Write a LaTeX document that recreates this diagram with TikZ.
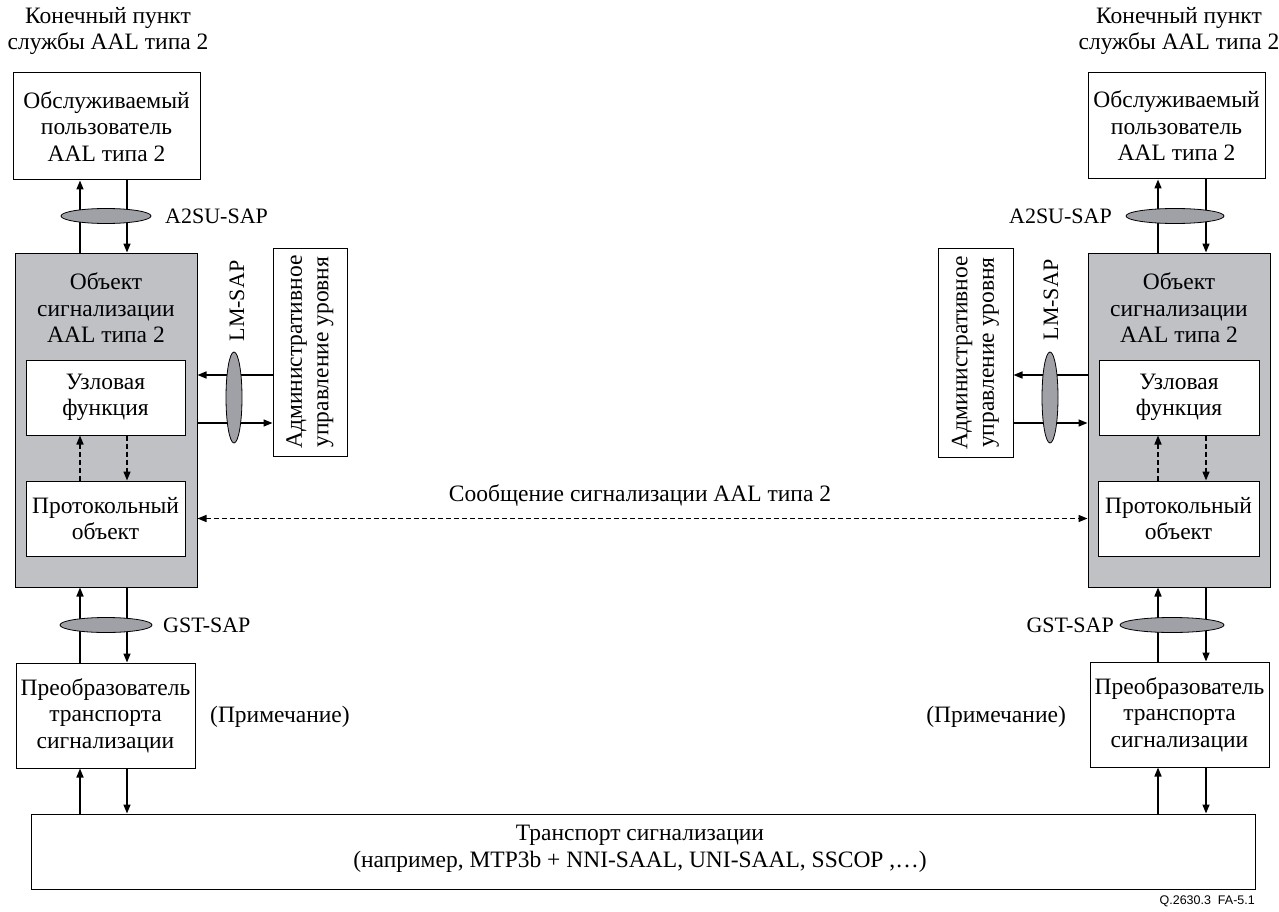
\documentclass[tikz,border=0pt]{standalone}
\usepackage{fontspec}
\setmainfont{Liberation Serif}
\newfontfamily\figsans{Liberation Sans}
\usetikzlibrary{arrows.meta,shapes.geometric}

\definecolor{entgray}{RGB}{192,193,197}
\definecolor{sapgray}{RGB}{160,161,166}

\tikzset{
  box/.style={draw, line width=1pt, fill=white, align=center, inner sep=0pt},
  entity/.style={box, fill=entgray},
  sap/.style={ellipse, draw, line width=0.8pt, fill=sapgray, inner sep=0pt},
  wire/.style={line width=1.5pt},
  link/.style={wire, -{Triangle[length=9pt,width=7pt]}},
  twoway/.style={wire, {Triangle[length=9pt,width=7pt]}-{Triangle[length=9pt,width=7pt]}},
  dashline/.style={dash pattern=on 5pt off 3pt},
  txt/.style={align=center, inner sep=0pt},
  saptxt/.style={txt, font=\fontsize{22}{26}\selectfont}
}

\begin{document}
\begin{tikzpicture}[x=1pt, y=-1pt, font=\fontsize{23.5}{26.5}\selectfont]
\useasboundingbox (0,0) rectangle (1279,912);

% ---------- left end point ----------
\node[txt] (endL) at (108,31) {Конечный пункт\\службы AAL типа 2};
\node[box, minimum width=187, minimum height=107] (userL) at (106.5,126.5)
  {Обслуживаемый\\пользователь\\AAL типа 2};
\node[entity, minimum width=182, minimum height=334] (mainL) at (106,420) {};
\node[txt] (titleL) at (106,308) {Объект\\сигнализации\\AAL типа 2};
\node[box, minimum width=159, minimum height=75] (fnL) at (105.5,397.5) {Узловая\\функция};
\node[box, minimum width=159, minimum height=75] (protoL) at (105.5,518.5) {Протокольный\\объект};
\node[box, minimum width=74, minimum height=208,
  label={[rotate=90, align=center, inner sep=0pt]center:Административное\\управление уровня}]
  (admL) at (310,352) {};
\node[box, minimum width=179, minimum height=105] (convL) at (105.5,715.5)
  {Преобразователь\\транспорта\\сигнализации};

% ---------- right end point ----------
\node[txt] (endR) at (1179,31) {Конечный пункт\\службы AAL типа 2};
\node[box, minimum width=177, minimum height=106] (userR) at (1176.5,126)
  {Обслуживаемый\\пользователь\\AAL типа 2};
\node[entity, minimum width=182, minimum height=334] (mainR) at (1179,420) {};
\node[txt] (titleR) at (1179,308) {Объект\\сигнализации\\AAL типа 2};
\node[box, minimum width=160, minimum height=75] (fnR) at (1179,397.5) {Узловая\\функция};
\node[box, minimum width=161, minimum height=75] (protoR) at (1178.5,518.5) {Протокольный\\объект};
\node[box, minimum width=75, minimum height=209,
  label={[rotate=90, align=center, inner sep=0pt]center:Административное\\управление уровня}]
  (admR) at (975.5,352.5) {};
\node[box, minimum width=179, minimum height=105] (convR) at (1179.5,714.5)
  {Преобразователь\\транспорта\\сигнализации};

% ---------- common transport ----------
\node[box, minimum width=1224, minimum height=75] (trans) at (643,851.5) {};
\node[txt] (transtxt) at (640,849)
  {Транспорт сигнализации\\(например, MTP3b + NNI-SAAL, UNI-SAAL, SSCOP ,\dots)};

% column and row guides for the connectors
\coordinate (cLa) at (80,0);
\coordinate (cLb) at (127,0);
\coordinate (cRa) at (1158,0);
\coordinate (cRb) at (1206,0);
\coordinate (rUp) at (0,375);
\coordinate (rDn) at (0,423);

% ---------- left connectors ----------
\draw[link] (mainL.north -| cLa) -- (userL.south -| cLa);
\draw[link] (userL.south -| cLb) -- (mainL.north -| cLb);
\draw[link, dashline] (protoL.north -| cLa) -- (fnL.south -| cLa);
\draw[link, dashline] (fnL.south -| cLb) -- (protoL.north -| cLb);
\draw[link] (convL.north -| cLa) -- (mainL.south -| cLa);
\draw[link] (mainL.south -| cLb) -- (convL.north -| cLb);
\draw[link] (trans.north -| cLa) -- (convL.south -| cLa);
\draw[link] (convL.south -| cLb) -- (trans.north -| cLb);
\draw[link] (admL.west |- rUp) -- (mainL.east |- rUp);
\draw[link] (mainL.east |- rDn) -- (admL.west |- rDn);

% ---------- right connectors ----------
\draw[link] (mainR.north -| cRa) -- (userR.south -| cRa);
\draw[link] (userR.south -| cRb) -- (mainR.north -| cRb);
\draw[link, dashline] (protoR.north -| cRa) -- (fnR.south -| cRa);
\draw[link, dashline] (fnR.south -| cRb) -- (protoR.north -| cRb);
\draw[link] (convR.north -| cRa) -- (mainR.south -| cRa);
\draw[link] (mainR.south -| cRb) -- (convR.north -| cRb);
\draw[link] (trans.north -| cRa) -- (convR.south -| cRa);
\draw[link] (convR.south -| cRb) -- (trans.north -| cRb);
\draw[link] (mainR.west |- rUp) -- (admR.east |- rUp);
\draw[link] (admR.east |- rDn) -- (mainR.west |- rDn);

% ---------- peer-to-peer signalling message ----------
\draw[twoway, dashline] (mainL.east |- protoL) -- (mainR.west |- protoR);
\node[txt] (msg) at (640,496) {Сообщение сигнализации AAL типа 2};

% ---------- service access points ----------
\node[sap, minimum width=90, minimum height=15] (a2suL) at (106,216) {};
\node[sap, minimum width=98, minimum height=15] (a2suR) at (1175,216) {};
\node[sap, minimum width=16, minimum height=91] (lmL) at (234,397.5) {};
\node[sap, minimum width=16, minimum height=91] (lmR) at (1050,397.5) {};
\node[sap, minimum width=92, minimum height=15] (gstL) at (106,625) {};
\node[sap, minimum width=104, minimum height=15] (gstR) at (1172,625) {};

\node[saptxt, anchor=west] (a2suLt) at (165,216) {A2SU-SAP};
\node[saptxt, anchor=east] (a2suRt) at (1112,216) {A2SU-SAP};
\node[saptxt, rotate=90] (lmLt) at (237,301) {LM-SAP};
\node[saptxt, rotate=90] (lmRt) at (1051,300) {LM-SAP};
\node[saptxt, anchor=west] (gstLt) at (163,625) {GST-SAP};
\node[saptxt, anchor=east] (gstRt) at (1114,625) {GST-SAP};

\node[txt, anchor=west] (noteL) at (210,717) {(Примечание)};
\node[txt, anchor=east] (noteR) at (1066,717) {(Примечание)};

\node[txt, anchor=east, font=\figsans\fontsize{12.5}{14}\selectfont] (figid) at (1255,901) {Q.2630.3\ \ FA-5.1};
\end{tikzpicture}
\end{document}
